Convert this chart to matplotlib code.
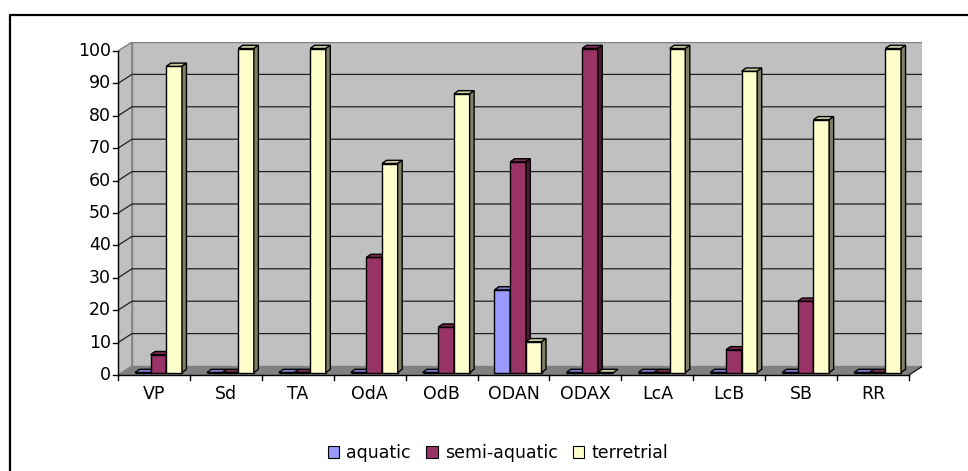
import matplotlib
matplotlib.use("Agg")
import matplotlib.pyplot as plt
from matplotlib.patches import Polygon, Patch
from matplotlib.lines import Line2D

# Habitat shares (%) per site
categories = ["VP", "Sd", "TA", "OdA", "OdB", "ODAN", "ODAX", "LcA", "LcB", "SB", "RR"]
aquatic = [0, 0, 0, 0, 0, 25.5, 0, 0, 0, 0, 0]
semi_aquatic = [5.5, 0, 0, 35.5, 14, 65, 100, 0, 7, 22, 0]
terrestrial = [94.5, 100, 100, 64.5, 86, 9.5, 0, 100, 93, 78, 100]
series_names = ["aquatic", "semi-aquatic", "terretrial"]
yticks = list(range(0, 101, 10))

front_cols = ["#9999FF", "#993366", "#FFFFCC"]
top_cols = ["#7A7ACC", "#7A2952", "#CCCCA3"]
side_cols = ["#4D4D80", "#4D1A33", "#808066"]

FONT = {"family": "DejaVu Sans", "size": 12.5}

W, H = 968, 471
fig = plt.figure(figsize=(W / 100, H / 100), dpi=100)

# plot frame in pixels (front-left-bottom corner and back-right-top corner)
x_front, y_floor = 118, 375
x_right_back, y_top_back = 922, 42
px_cat = 791 / len(categories)   # pixels per category
px_val = 3.24                    # pixels per percent

ax = fig.add_axes([x_front / W, (H - y_floor) / H,
                   (x_right_back - x_front) / W, (y_floor - y_top_back) / H])
ax.set_xlim(0, (x_right_back - x_front) / px_cat)
ax.set_ylim(0, (y_floor - y_top_back) / px_val)
ax.axis("off")

n = len(categories)
DX, DY = 14 / px_cat, 9 / px_val          # wall depth
BX0, BY0 = 4.5 / px_cat, 2.5 / px_val     # bar front-face offset into depth
BDX, BDY = 4.5 / px_cat, 3.2 / px_val     # bar depth
bw = 15.67 / px_cat

wall_edge = "#808080"
# floor, side wall, back wall
ax.add_patch(Polygon([(0, 0), (n, 0), (n + DX, DY), (DX, DY)], closed=True,
                     facecolor="#808080", edgecolor="none", zorder=1))
ax.add_patch(Polygon([(0, 0), (DX, DY), (DX, 100 + DY), (0, 100)], closed=True,
                     facecolor="#C0C0C0", edgecolor=wall_edge, lw=1, zorder=1))
ax.add_patch(Polygon([(DX, DY), (n + DX, DY), (n + DX, 100 + DY), (DX, 100 + DY)],
                     closed=True, facecolor="#C0C0C0", edgecolor=wall_edge, lw=1, zorder=1))
ax.plot([n, n + DX], [0, DY], color="#000000", lw=0.8, zorder=2)

# gridlines on walls
for v in yticks[1:-1]:
    ax.plot([0, DX, n + DX], [v, v + DY, v + DY], color="#202020", lw=0.9, zorder=2)

# axes lines and ticks
ax.plot([0, 0], [0, 100], color="black", lw=1, zorder=6, clip_on=False)
ax.plot([0, n], [0, 0], color="black", lw=1, zorder=6, clip_on=False)
tx = 5 / px_cat
ty = 5 / px_val
for v in yticks:
    ax.plot([-tx, 0], [v, v], color="black", lw=1, zorder=6, clip_on=False)
    ax.text(-7 / px_cat, v, str(v), ha="right", va="center", color="black", **FONT)
for i in range(n + 1):
    ax.plot([i, i], [0, -ty], color="black", lw=1, zorder=6, clip_on=False)
for i, c in enumerate(categories):
    ax.text(i + 0.5, -10 / px_val, c, ha="center", va="top", color="black", **FONT)

# 3D-look bars
data = [aquatic, semi_aquatic, terrestrial]
for i in range(n):
    for j in range(3):
        v = data[j][i]
        x = i + 0.5 - 1.5 * bw + BX0 + j * bw
        z = 3 + i * 3 + j
        ax.bar([x], [v], width=bw, bottom=BY0, align="edge",
               color=front_cols[j], edgecolor="black", lw=1, zorder=z)
        top = BY0 + v
        ax.add_patch(Polygon([(x, top), (x + bw, top), (x + bw + BDX, top + BDY),
                              (x + BDX, top + BDY)], closed=True,
                             facecolor=top_cols[j], edgecolor="black", lw=1, zorder=z))
        if v > 0:
            ax.add_patch(Polygon([(x + bw, BY0), (x + bw + BDX, BY0 + BDY),
                                  (x + bw + BDX, top + BDY), (x + bw, top)], closed=True,
                                 facecolor=side_cols[j], edgecolor="black", lw=1, zorder=z))

# legend
handles = [Patch(facecolor=front_cols[j], edgecolor="black", lw=0.8) for j in range(3)]
fig.legend(handles, series_names, loc="center", bbox_to_anchor=(498 / W, 1 - 453 / H),
           ncol=3, frameon=False, handlelength=0.65, handleheight=0.65,
           handletextpad=0.4, columnspacing=0.9, prop=FONT)

# chart border (top and left edges)
fig.add_artist(Line2D([9.5 / W, 9.5 / W, 1.0], [0.0, 1 - 15 / H, 1 - 15 / H],
                      color="black", lw=1.6, transform=fig.transFigure))

fig.savefig("out.png", dpi=100, facecolor="white")
